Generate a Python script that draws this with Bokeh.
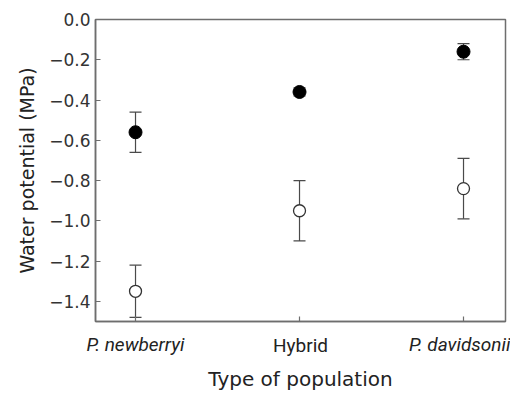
from bokeh.plotting import figure
from bokeh.models import (ColumnDataSource, Whisker, TeeHead, FixedTicker, Range1d, LinearAxis, Title)
from bokeh.embed import file_html
from bokeh.resources import INLINE

categories = ["P. newberryi", "Hybrid", "P. davidsonii"]
cat_italic = [True, False, True]
x_pos = [0, 1, 2]

filled_mean = [-0.56, -0.36, -0.16]
filled_err = [0.10, 0.02, 0.04]
open_mean = [-1.35, -0.95, -0.84]
open_err = [0.13, 0.15, 0.15]

y_ticks = [0.0, -0.2, -0.4, -0.6, -0.8, -1.0, -1.2, -1.4]
Y_MIN, Y_MAX = -1.5, 0.0

TICK_FONT = "DejaVu Sans"
CAT_FONT = "Roboto"
AX = "#6e6e6e"
EB = "#4a4a4a"

p = figure(width=510, height=396, output_backend="svg", toolbar_location=None,
           x_range=Range1d(-0.244, 2.256), y_range=Range1d(Y_MIN, Y_MAX),
           x_axis_type=None,
           min_border_left=95, min_border_top=19, min_border_bottom=75, min_border_right=5)
p.grid.visible = False
p.outline_line_color = AX
p.outline_line_width = 1.5

fsrc = ColumnDataSource(dict(x=x_pos, y=filled_mean,
                             lo=[m - e for m, e in zip(filled_mean, filled_err)],
                             hi=[m + e for m, e in zip(filled_mean, filled_err)]))
osrc = ColumnDataSource(dict(x=x_pos, y=open_mean,
                             lo=[m - e for m, e in zip(open_mean, open_err)],
                             hi=[m + e for m, e in zip(open_mean, open_err)]))

for src in (fsrc, osrc):
    w = Whisker(source=src, base="x", lower="lo", upper="hi", line_color=EB, line_width=1.2,
                upper_head=TeeHead(size=12, line_color=EB, line_width=1.2),
                lower_head=TeeHead(size=12, line_color=EB, line_width=1.2))
    p.add_layout(w)

p.scatter("x", "y", source=fsrc, size=13, fill_color="black", line_color="black")
p.scatter("x", "y", source=osrc, size=12, fill_color="white", line_color="#333333", line_width=1.3)

# y axis
p.yaxis.ticker = FixedTicker(ticks=y_ticks)
p.yaxis.major_label_overrides = {t: ("%.1f" % t).replace("-", "\u2212") for t in y_ticks}
p.yaxis.axis_label = "Water potential (MPa)"
p.yaxis.axis_line_color = AX
p.yaxis.axis_line_width = 1.5
p.yaxis.major_tick_line_color = AX
p.yaxis.major_tick_line_width = 1.2
p.yaxis.major_tick_in = 5
p.yaxis.major_tick_out = 0
p.yaxis.minor_tick_line_color = None
p.yaxis.major_label_text_font = TICK_FONT
p.yaxis.major_label_text_font_size = "17px"
p.yaxis.major_label_text_color = "#333333"
p.yaxis.major_label_standoff = 5
p.yaxis.axis_label_text_font = TICK_FONT
p.yaxis.axis_label_text_font_size = "19px"
p.yaxis.axis_label_text_font_style = "normal"
p.yaxis.axis_label_text_color = "#222222"
p.yaxis.axis_label_standoff = 8

# x axis: italic species names as tick labels; the plain "Hybrid" (middle category,
# centred on the frame) is the axis label pulled up onto the same row.
overrides = {xc: (name if it else "") for xc, name, it in zip(x_pos, categories, cat_italic)}
plain_name = [n for n, it in zip(categories, cat_italic) if not it][0]
xa = LinearAxis(ticker=FixedTicker(ticks=x_pos), major_label_overrides=overrides,
                axis_label=plain_name)
xa.axis_line_color = AX
xa.axis_line_width = 1.5
xa.major_tick_line_color = AX
xa.major_tick_line_width = 1.2
xa.major_tick_in = 5
xa.major_tick_out = 0
xa.minor_tick_line_color = None
xa.major_label_text_font = CAT_FONT
xa.major_label_text_font_size = "19px"
xa.major_label_text_font_style = "italic"
xa.major_label_text_color = "#222222"
xa.major_label_standoff = 11
xa.axis_label_text_font = CAT_FONT
xa.axis_label_text_font_size = "19px"
xa.axis_label_text_font_style = "normal"
xa.axis_label_text_color = "#222222"
xa.axis_label_standoff = -25
p.add_layout(xa, "below")

p.add_layout(Title(text="Type of population", align="center", text_font=TICK_FONT,
                   text_font_size="20px", text_font_style="normal", text_color="#222222",
                   standoff=10), "below")

open("out.html", "w").write(file_html(p, INLINE))
